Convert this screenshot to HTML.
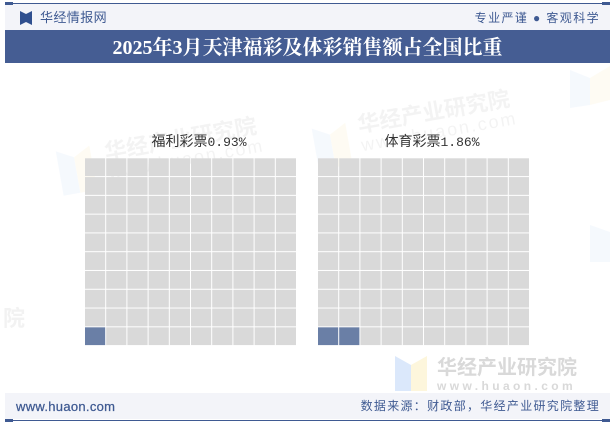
<!DOCTYPE html>
<html lang="zh">
<head>
<meta charset="utf-8">
<title>2025年3月天津福彩及体彩销售额占全国比重</title>
<style>
html,body{margin:0;padding:0;background:#fff}
#page{position:relative;width:615px;height:427px;overflow:hidden;background:#fff;font-family:"Liberation Sans","WenQuanYi Zen Hei","Noto Sans CJK SC",sans-serif}
#page div{position:absolute}
svg{position:absolute;left:0;top:0}
.abs{white-space:nowrap}
</style>
</head>
<body>
<div id="page">
  <div style="left:5px;top:4px;width:605px;height:26px;background:#f3f4f9"></div>
  <div style="left:5px;top:3px;width:605px;height:1px;background:#3f5a92"></div>
  <div style="left:5px;top:2px;width:8px;height:3px;background:#3f5a92"></div>
  <div style="left:602px;top:2px;width:8px;height:3px;background:#3f5a92"></div>
  <svg width="615" height="427" style="pointer-events:none">
    <path d="M20 11 L26 14 L26 22 L20 25 Z M32 11 L26 14 L26 22 L32 25 Z" fill="#2f4f8f"/>
  </svg>
  <div class="abs" style="left:40px;top:9px;font-size:13px;line-height:18px;letter-spacing:.4px;color:#3f5a92">华经情报网</div>
  <div class="abs" style="right:15px;top:9px;font-size:12px;line-height:18px;letter-spacing:1.4px;color:#3f5a92">专业严谨 ● 客观科学</div>
  <div style="left:5px;top:30px;width:605px;height:33px;background:#455d93"></div>
  <div class="abs" style="left:5px;top:30px;width:605px;height:33px;text-align:center;font-family:'Liberation Serif','Noto Serif CJK SC',serif;font-weight:bold;font-size:20px;line-height:37px;color:#fff">2025年3月天津福彩及体彩销售额占全国比重</div>

  <svg id="watermarks" width="615" height="427" style="font-family:'Liberation Sans','WenQuanYi Zen Hei','Noto Sans CJK SC',sans-serif">
    <g>
      <path d="M395 356 L411 365 L411 391 L395 391 Z" fill="#dbe8fb"/>
      <path d="M427 356 L411 365 L411 391 L427 391 Z" fill="#fdf6dc"/>
      <text x="437" y="374" font-size="20" font-weight="bold" fill="#d9d9d9">华经产业研究院</text>
      <text x="437" y="390" font-size="12" font-weight="bold" letter-spacing="3.4" fill="#d9d9d9">www.huaon.com</text>
    </g>
    <g opacity="0.09" transform="rotate(-10 430 120)">
      <path d="M312 108 L329 117 L329 150 L312 150 Z" fill="#9dc0f0"/>
      <path d="M346 108 L329 117 L329 150 L346 150 Z" fill="#f5dc80"/>
      <text x="358" y="120" font-size="22" font-weight="bold" fill="#888">华经产业研究院</text>
      <text x="358" y="139" font-size="18" fill="#888" letter-spacing="2">www.huaon.com</text>
    </g>
    <g opacity="0.09" transform="rotate(-10 150 150)">
      <path d="M57 135 L74 144 L74 180 L57 180 Z" fill="#9dc0f0"/>
      <path d="M91 135 L74 144 L74 180 L91 180 Z" fill="#f5dc80"/>
      <text x="105" y="152" font-size="22" font-weight="bold" fill="#888">华经产业研究院</text>
      <text x="105" y="171" font-size="18" fill="#888" letter-spacing="2">www.huaon.com</text>
    </g>
    <g opacity="0.09">
      <path d="M570 70 L590 78 L590 105 L570 108 Z" fill="#9dc0f0"/>
      <path d="M610 66 L590 78 L590 105 L610 100 Z" fill="#f5dc80"/>
    </g>
    <g opacity="0.1">
      <text x="3" y="326" font-size="22" font-weight="bold" fill="#888">院</text>
      <path d="M590 225 L610 232 L610 262 L590 262 Z" fill="#9dc0f0"/>
    </g>
  </svg>

  <svg id="chart" width="615" height="427"></svg>

  <div style="left:5px;top:393px;width:605px;height:26px;background:#f3f4f9"></div>
  <div style="left:5px;top:420px;width:605px;height:1px;background:#3f5a92"></div>
  <div style="left:5px;top:419px;width:8px;height:3px;background:#3f5a92"></div>
  <div style="left:602px;top:419px;width:8px;height:3px;background:#3f5a92"></div>
  <div class="abs" style="left:16px;top:398px;font-size:13px;line-height:17px;letter-spacing:.3px;color:#3f5a92;-webkit-text-stroke:.25px #3f5a92">www.huaon.com</div>
  <div class="abs" style="right:15px;top:397px;font-size:12px;line-height:18px;letter-spacing:1.3px;color:#3f5a92">数据来源：财政部，华经产业研究院整理</div>
</div>
<script>
var categories = ['福利彩票', '体育彩票'];
var shareValues = [0.93, 1.86];
var valueLabels = ['0.93%', '1.86%'];
var gridRows = 10;
var gridCols = 10;
var percentPerCell = 1;

var NS = 'http://www.w3.org/2000/svg';
var svg = document.getElementById('chart');
var panelLeft = [85, 318];
var gridTop = 158.3, gridW = 212, gridH = 187.8, gap = 1;
var labelOffset = 8;

function xCell(panel, col) { return panelLeft[panel] + col * gridW / gridCols; }
function yCell(row) { return gridTop + row * gridH / gridRows; }

categories.forEach(function (name, p) {
  var filled = Math.round(shareValues[p] / percentPerCell);
  var cx = panelLeft[p] + gridW / 2 + labelOffset;

  var label = document.createElementNS(NS, 'text');
  
  
  label.setAttribute('x', cx);
  label.setAttribute('y', 146);
  label.setAttribute('text-anchor', 'middle');
  label.setAttribute('font-size', '14');
  label.setAttribute('fill', '#333');
  label.setAttribute('font-family', '"WenQuanYi Zen Hei","Noto Sans CJK SC",sans-serif');
  label.textContent = name;
  var num = document.createElementNS(NS, 'tspan');
  num.setAttribute('font-size', '13');
  num.setAttribute('font-family', '"Liberation Mono",monospace');
  num.textContent = valueLabels[p];
  label.appendChild(num);
  svg.appendChild(label);

  for (var r = 0; r < gridRows; r++) {
    for (var c = 0; c < gridCols; c++) {
      var idx = (gridRows - 1 - r) * gridCols + c;
      var rect = document.createElementNS(NS, 'rect');
      
      
      rect.setAttribute('x', xCell(p, c).toFixed(2));
      rect.setAttribute('y', yCell(r).toFixed(2));
      rect.setAttribute('width', (gridW / gridCols - gap).toFixed(2));
      rect.setAttribute('height', (gridH / gridRows - gap).toFixed(2));
      rect.setAttribute('fill', idx < filled ? '#6a7fa6' : '#d9d9d9');
      svg.appendChild(rect);
    }
  }
});
</script>
</body>
</html>
